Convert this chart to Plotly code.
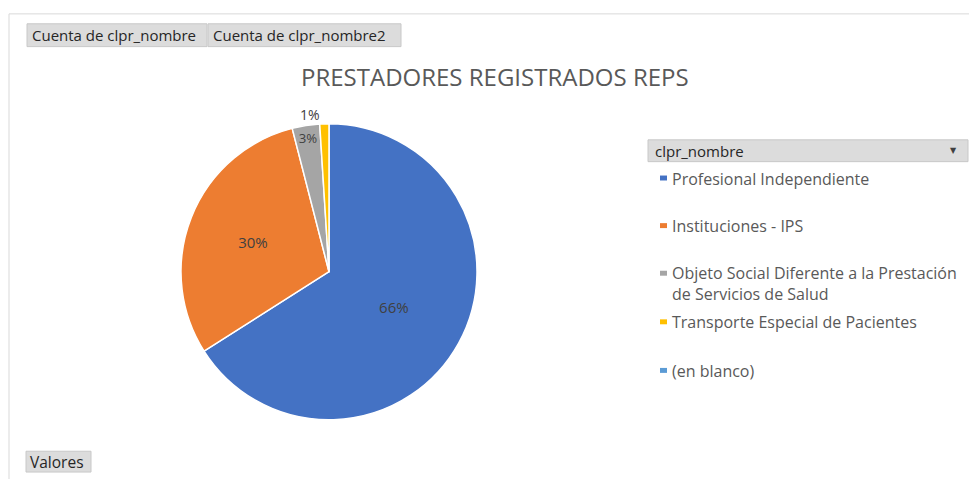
import plotly.graph_objects as go

categories = ["Profesional Independiente", "Instituciones - IPS",
              "Objeto Social Diferente a la Prestación de Servicios de Salud",
              "Transporte Especial de Pacientes", "(en blanco)"]
legend_labels = ["Profesional Independiente", "Instituciones - IPS",
                 "Objeto Social Diferente a la Prestación<br>de Servicios de Salud",
                 "Transporte Especial de Pacientes", "(en blanco)"]
values = [66, 30, 3, 1, 0]
colors = ["#4472C4", "#ED7D31", "#A5A5A5", "#FFC000", "#5B9BD5"]
text_pos = ["inside", "inside", "inside", "outside", "none"]

title_text = "PRESTADORES REGISTRADOS REPS"
W, H = 969, 483
FONT = "'Open Sans', Lato, sans-serif"

pie_vals = [v for v in values if v > 0]
pie_labels = [c for c, v in zip(categories, values) if v > 0]
pie_colors = [c for c, v in zip(colors, values) if v > 0]
pie_pos = [p for p, v in zip(text_pos, values) if v > 0]

cx, cy, r = 329, 274, 148
fig = go.Figure(go.Pie(
    labels=pie_labels, values=pie_vals, sort=False, direction="clockwise", rotation=0,
    marker=dict(colors=pie_colors, line=dict(color="white", width=1.5)),
    textinfo="percent", texttemplate="%{percent:.0%}", textposition=pie_pos,
    insidetextorientation="horizontal",
    textfont=dict(family=FONT, size=15, color="#404040"),
    insidetextfont=dict(family=FONT, size=15, color="#404040"),
    outsidetextfont=dict(family=FONT, size=14, color="#404040"),
    domain=dict(x=[(cx - r) / W, (cx + r) / W], y=[(H - cy - r - 30) / H, (H - cy + r + 30) / H]),
    showlegend=False, hoverinfo="label+percent",
))

shapes = []
annotations = []
# outer frame
shapes.append(dict(type="line", xref="paper", yref="paper", x0=9 / W, x1=1, y0=1 - 14 / H, y1=1 - 14 / H,
                   line=dict(color="#d9d9d9", width=1)))
shapes.append(dict(type="line", xref="paper", yref="paper", x0=9 / W, x1=9 / W, y0=0, y1=1 - 14 / H,
                   line=dict(color="#d9d9d9", width=1)))

def button(x0, x1, y0, y1, text, pad=4, size=15):
    shapes.append(dict(type="rect", xref="paper", yref="paper", x0=x0 / W, x1=x1 / W,
                       y0=1 - y1 / H, y1=1 - y0 / H, fillcolor="#dcdcdc",
                       line=dict(color="#c8c8c8", width=1), layer="below"))
    annotations.append(dict(xref="paper", yref="paper", x=(x0 + pad) / W, y=1 - (y0 + y1) / 2 / H,
                            text=text, showarrow=False, xanchor="left", yanchor="middle",
                            font=dict(family=FONT, size=size, color="#262626")))

button(27, 207, 24, 47, "Cuenta de clpr_nombre", pad=3)
button(208, 401, 24, 47, "Cuenta de clpr_nombre2", pad=3)
button(26, 91, 455, 476, "Valores", pad=2, size=15.5)
button(648, 968, 141, 163, "clpr_nombre", pad=5)
annotations.append(dict(xref="paper", yref="paper", x=953 / W, y=1 - 152 / H, text="▼", showarrow=False,
                        xanchor="center", yanchor="middle", font=dict(family="DejaVu Sans", size=8, color="#404040")))

# title
annotations.append(dict(xref="paper", yref="paper", x=495 / W, y=1 - 77 / H, text=title_text, showarrow=False,
                        xanchor="center", yanchor="middle", font=dict(family=FONT, size=24, color="#595959")))

# custom legend
legend_y = [180, 228, 286, 325, 374]
for lab, col, ly in zip(legend_labels, colors, legend_y):
    my = 276 if "<br>" in lab else ly
    shapes.append(dict(type="rect", xref="paper", yref="paper", x0=660 / W, x1=667 / W,
                       y0=1 - (my + 2) / H, y1=1 - (my - 3) / H,
                       fillcolor=col, line=dict(width=0)))
    annotations.append(dict(xref="paper", yref="paper", x=670 / W, y=1 - ly / H, text=lab, showarrow=False,
                            xanchor="left", yanchor="middle", align="left",
                            font=dict(family=FONT, size=16, color="#595959")))

fig.update_layout(width=W, height=H, margin=dict(l=0, r=0, t=0, b=0),
                  paper_bgcolor="white", plot_bgcolor="white",
                  shapes=shapes, annotations=annotations, showlegend=False)
fig.write_html("out.html", config={"displayModeBar": False},
               post_script="document.body.style.margin='0';document.body.style.overflow='hidden';")
